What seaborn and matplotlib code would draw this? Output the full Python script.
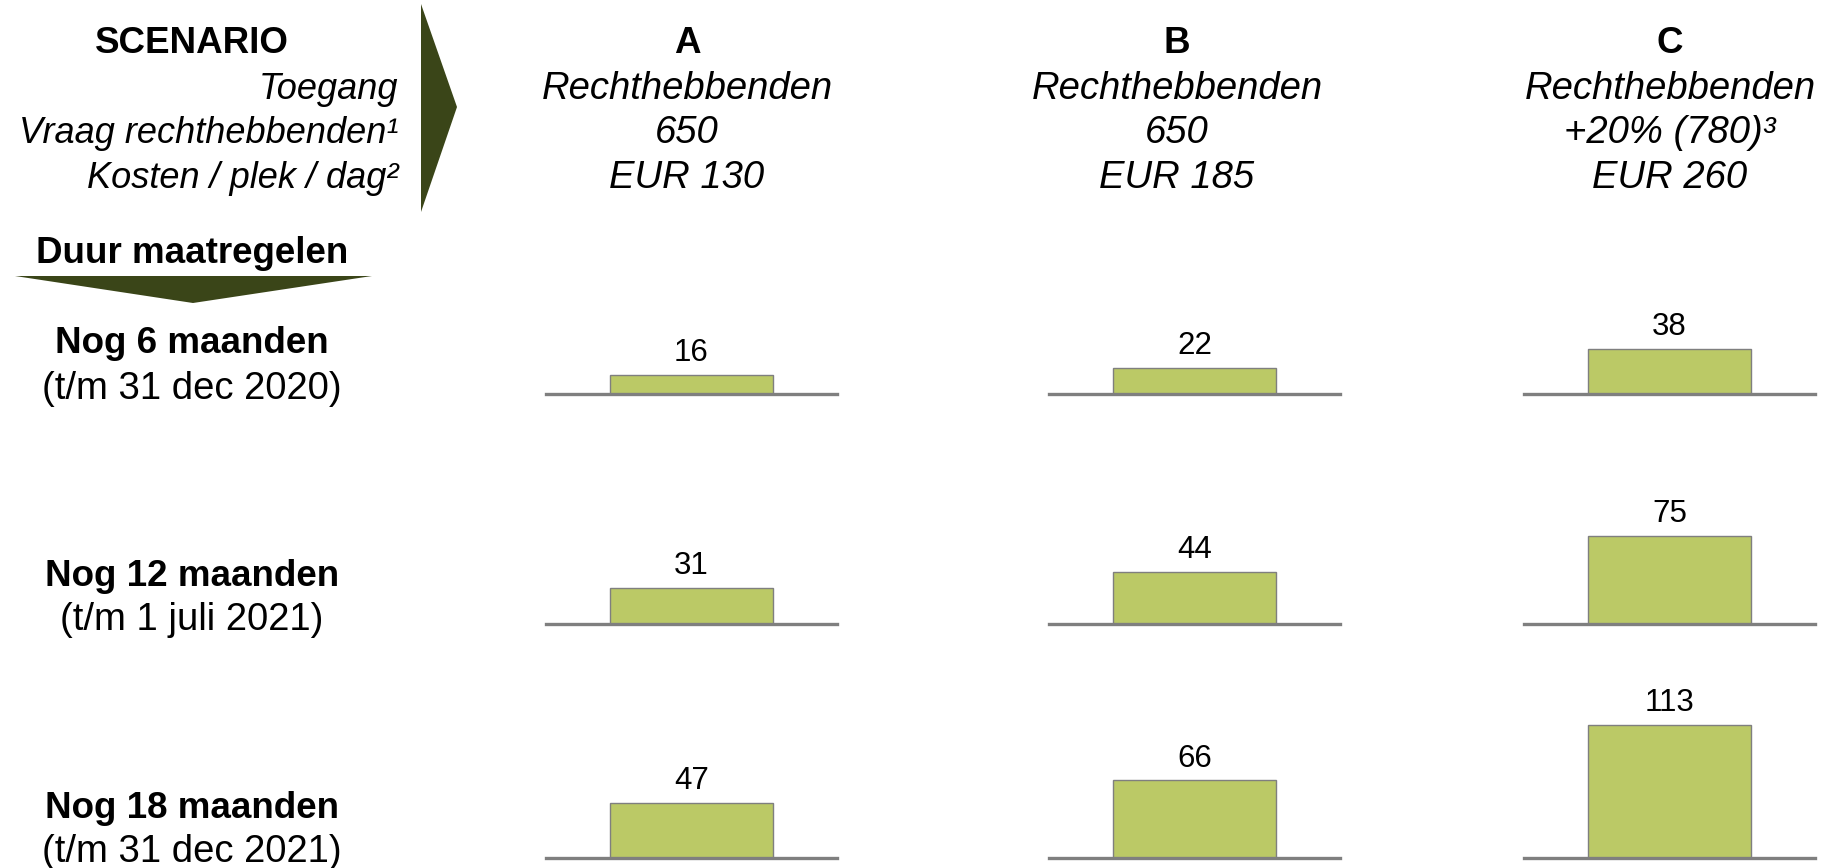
import numpy as np
import pandas as pd
import matplotlib.pyplot as plt
import seaborn as sns
from matplotlib.patches import Polygon

# --- data ---
scenarios = ["A", "B", "C"]
durations = ["Nog 6 maanden", "Nog 12 maanden", "Nog 18 maanden"]
periods = ["(t/m 31 dec 2020)", "(t/m 1 juli 2021)", "(t/m 31 dec 2021)"]
kosten_a = [16, 31, 47]
kosten_b = [22, 44, 66]
kosten_c = [38, 75, 113]
header_labels = ["Toegang", "Vraag rechthebbenden¹", "Kosten / plek / dag²"]
toegang = ["Rechthebbenden", "Rechthebbenden", "Rechthebbenden"]
vraag = ["650", "650", "+20% (780)³"]
kosten_dag = ["EUR 130", "EUR 185", "EUR 260"]

df = pd.DataFrame({
    "scenario": np.repeat(scenarios, len(durations)),
    "duur": durations * len(scenarios),
    "waarde": kosten_a + kosten_b + kosten_c,
})

# --- style ---
sns.set_style("white")
plt.rcParams["font.family"] = ["Liberation Sans", "DejaVu Sans"]
plt.rcParams["text.color"] = "black"
green = "#BBC966"
grey = "#7F7F7F"
olive = "#3A4518"
fs_bold = 26.5
fs_text = 27.5
fs_left = 26

W, H = 1832, 868
fig = plt.figure(figsize=(W / 100, H / 100), dpi=100)


def px(x, y):
    return x / W, 1 - y / H


# layout in pixels
col_x = [(546, 837), (1049, 1340), (1524, 1815)]
head_x = [687, 1177, 1670]
row_base = [394, 624, 858]
label_base = [353, 586, 818]
period_base = [399, 630, 862]
head_base = [99, 143, 188]
ymax = 130
unit_px = 1.175

# --- bar cells ---
for i, duur in enumerate(durations):
    for j, sc in enumerate(scenarios):
        x0, x1 = col_x[j]
        ax = fig.add_axes([x0 / W, 1 - row_base[i] / H, (x1 - x0) / W, ymax * unit_px / H])
        sub = df[(df["scenario"] == sc) & (df["duur"] == duur)]
        sns.barplot(data=sub, x="scenario", y="waarde", color=green, width=0.557,
                    edgecolor=grey, linewidth=1, errorbar=None, saturation=1, ax=ax)
        ax.bar_label(ax.containers[0], fontsize=22.5, padding=5, color="black")
        ax.set_xlim(-0.5, 0.5)
        ax.set_ylim(0, ymax)
        ax.set_xticks([])
        ax.set_yticks([])
        ax.set_xlabel("")
        ax.set_ylabel("")
        sns.despine(ax=ax, left=True)
        ax.spines["bottom"].set_color(grey)
        ax.spines["bottom"].set_linewidth(2.4)
        ax.patch.set_alpha(0)

# --- header on the left ---
fig.text(*px(192, 53), "SCENARIO", fontsize=fs_bold, fontweight="bold", ha="center", va="baseline")
for lab, yb in zip(header_labels, head_base):
    fig.text(*px(398, yb), lab, fontsize=fs_left, style="italic", ha="right", va="baseline")
fig.text(*px(192, 263), "Duur maatregelen", fontsize=fs_bold, fontweight="bold", ha="center", va="baseline")

# arrows
fig.add_artist(Polygon([px(421, 4), px(457, 107), px(421, 212)], closed=True,
                       transform=fig.transFigure, facecolor=olive, edgecolor="none"))
fig.add_artist(Polygon([px(15, 276), px(372, 276), px(193, 303)], closed=True,
                       transform=fig.transFigure, facecolor=olive, edgecolor="none"))

# --- column headers ---
for j, sc in enumerate(scenarios):
    fig.text(*px(head_x[j], 53), sc, fontsize=fs_bold, fontweight="bold", ha="center", va="baseline")
    for txt, yb in zip([toegang[j], vraag[j], kosten_dag[j]], head_base):
        fig.text(*px(head_x[j], yb), txt, fontsize=fs_text, style="italic", ha="center", va="baseline")

# --- row labels ---
for i in range(len(durations)):
    fig.text(*px(192, label_base[i]), durations[i], fontsize=fs_bold, fontweight="bold",
             ha="center", va="baseline")
    fig.text(*px(192, period_base[i]), periods[i], fontsize=fs_text, ha="center", va="baseline")

fig.savefig("out.png", dpi=100)
